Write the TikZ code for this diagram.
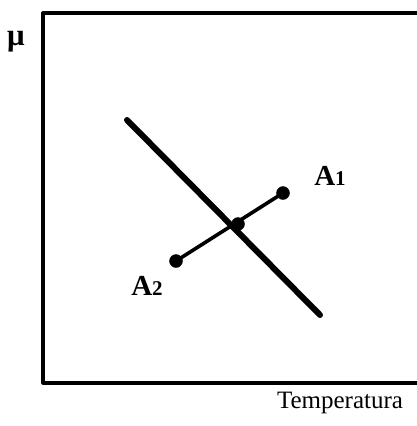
\documentclass[tikz,border=0pt]{standalone}
\usepackage{fontspec}
\setmainfont{Liberation Serif}
\begin{document}
\begin{tikzpicture}[x=1pt, y=-1pt, line join=round, line cap=round, font=\fontsize{25}{28}\selectfont]
	\tikzset{lbl/.style={font=\fontsize{29}{30}\selectfont\bfseries}}
	\useasboundingbox (0,0) rectangle (416,426);
	\path (43,13) coordinate (TL)
		(43,383) coordinate (BL)
		(418,13) coordinate (TR)
		(418,383) coordinate (BR)
		(127,120) coordinate (P)
		(320,315) coordinate (Q)
		(283,193) coordinate (A1)
		(176,261) coordinate (A2)
		(238,224) coordinate (M)
	;
	% frame
	\draw [line width=3.2pt, line cap=butt] (TR)--(TL)--(BL)--(BR);
	% thick line
	\draw [line width=6pt] (P)--(Q);
	% tie line
	\draw [line width=3.6pt] (A2)--(A1);
	\foreach \x in {A1,A2,M}{
		\draw [fill=black] (\x) circle (6.5pt);
	}
	;
	\node [font=\fontsize{31}{32}\selectfont\bfseries] at (16,42) {μ};
	\node [lbl] at (330,176) {A\fontsize{21}{22}\selectfont 1};
	\node [lbl] at (147,286) {A\fontsize{21}{22}\selectfont 2};
	\node at (340,403) {Temperatura};
\end{tikzpicture}
\end{document}
